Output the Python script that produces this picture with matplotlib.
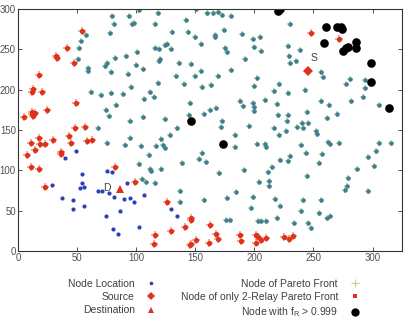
import matplotlib

matplotlib.use("Agg")
import matplotlib.pyplot as plt
from matplotlib.lines import Line2D

plt.rcParams["font.family"] = ["Liberation Sans", "DejaVu Sans"]
plt.rcParams["mathtext.default"] = "regular"

# plain nodes (only node location)
plain_x = [39.8, 49.2, 29.1, 37, 46.9, 46.9, 54, 54, 52.3, 55.9, 55.9, 67.5, 70.9, 75.2, 79.4,
           77.1, 81.1, 74.8, 80.8, 84.7, 86.7, 90.1, 92.6, 94.6, 98.6, 102.3, 106.8, 129.7, 134.5]
plain_y = [114.9, 123.9, 81.8, 65.3, 62.8, 51.7, 95, 84.7, 77.7, 79.7, 55.8, 74.3, 74.7, 99.1, 97.5,
           71.5, 66.5, 43, 27.6, 21.4, 49.2, 64.4, 83.9, 65.3, 60.7, 29.4, 69, 52, 43.7]

# nodes of the Pareto front
pareto_x = [
    79.7, 81.6, 94.1, 96.6, 98.3, 77.7, 57.4, 53.4, 52, 51.1, 59.6, 59.6, 75.2, 74, 79.1, 81.9,
    91.5, 93, 100.6, 99.7, 61.9, 70.6, 79.1, 88.7, 95.8, 82.8, 74.6, 76.9, 67.5, 94.7,
    75.7, 90.9, 94.7, 102.3,
    102.8, 118.9, 150.3, 159.6, 165.3, 168.9, 172.9, 180.5, 141.8, 115.8, 130.5, 144.1, 149.4,
    166.7, 166.7, 174.6, 189.6, 198.6, 205.1, 154.5, 115.8, 119.7, 124.8, 126.3, 129.7, 175.4,
    176.9, 199.4, 205.7, 191.8, 120.3, 119.5, 105.9, 135.9, 146.6, 154.5, 150, 133.9, 169.5,
    180.5, 202.3, 118.9, 140.7, 155.6, 163.3, 199.4, 111.9, 114.7, 107, 145.8, 187.5, 190.4,
    198.6, 200, 199.4, 209.3, 157.6, 162.7, 167.8, 172.6, 171.8, 105.9, 124.8, 144.6, 134.5, 195.8,
    230.2, 228.2, 238.7, 229.7, 235.3, 230.5, 256.2, 257.9, 281.1, 277.7, 293.5, 293.5, 220.6,
    216.4, 228.5, 242.6, 219.5, 256.2, 263.3, 281.4, 292.1, 305.1, 244.3, 220.3, 228.5, 227.7,
    261.3, 269.5, 216.4, 236.2, 240.4, 241.3, 245.2,
    128.8, 183.3, 202.3, 208.7, 104.2, 116.9, 120.9, 123.1, 124.3, 111, 155.3, 153.4, 159.3,
    183.9, 111.9, 112.7, 120.9, 138.7, 169.7, 191.5, 203.6, 211.3, 212.1, 105.1, 108.2, 115.8,
    136.7, 137.3, 157.6, 176.6, 184.7, 198.6, 197.5, 175.7, 179.7, 203.4, 205.3, 209.6,
    221.2, 226.9, 252.3, 252.8, 262.5, 263.6, 271.2, 209.9, 239.6, 243.5, 257, 230.5, 228.5,
    221.4, 254.8, 215, 212.5, 244.6, 279.4, 278.2, 276.5, 287, 296, 303.1, 301.4, 305.1, 315.5,
    296, 217.2, 221.4, 219.5, 241.3, 239.6, 233.3, 245.5, 248.3, 256.2, 254.5, 261.6, 263.8,
]
pareto_y = [
    291.6, 281.3, 291.2, 280.9, 282.1, 269.8, 268.1, 260.6, 251.2, 237.5, 227.1, 223.4, 232.6,
    229.6, 221.8, 239.5, 241.3, 219.7, 246.2, 230.5, 197.4, 193.3, 196.2, 194.2, 203.6, 181.3,
    175.1, 167.3, 152.4, 161.5,
    133.8, 131.7, 140, 108.2,
    298.6, 294.5, 299.9, 295.3, 295.3, 296.5, 292.8, 291.6, 285.9, 280.9, 271.4, 271, 265.6,
    268.1, 265.6, 273.4, 268.9, 262.7, 265.6, 256.5, 251.9, 249.9, 254.9, 256.5, 250.3, 251.9,
    246.2, 252.8, 247.8, 237.5, 237.5, 235, 225.5, 233, 231.7, 223.4, 217.2, 216.4, 217.2,
    224.3, 214.4, 208.6, 206.6, 203.2, 205.3, 204.5, 196.6, 190.5, 188.4, 183, 186.2, 179.3,
    183, 178.8, 173.5, 187.5, 170.1, 174.7, 177.2, 161.1, 154, 166.4, 163.6, 168.1, 152, 154.9,
    280.9, 254.4, 249.1, 241.6, 235.8, 232.6, 221.8, 216, 213.5, 206.6, 211.5, 201.6, 206.9,
    198.6, 195.4, 199.5, 182.2, 186.2, 180.9, 186.2, 190.5, 180.9, 172.2, 168.1, 168.1, 161.5,
    165.2, 169.4, 152.4, 153.7, 158.2, 152.8, 159,
    143.7, 143.7, 133, 133, 130.1, 130.5, 138.4, 131.4, 127.6, 119.3, 121.4, 114, 110.3,
    128.9, 102, 99.5, 101.6, 108.7, 96.7, 100.7, 85.1, 98.3, 87.1, 88.8, 85.1, 84.3,
    74.3, 61.1, 62.8, 65.7, 73.1, 66.5, 53.3, 38.8, 38.8, 37.2, 36.8, 37.5,
    143.7, 148.3, 148.7, 145, 135.4, 132.2, 133.8, 128.5, 131, 121.8, 119.8, 117.3, 111.9,
    113.1, 108.7, 103.7, 80.9, 92.9, 90.8, 80.2, 76, 101.6, 116.1, 123.9, 105.3, 133.8, 133.8,
    74, 64.1, 55.4, 40.5, 63.6, 50, 34.7, 34.7, 28.5, 63.6, 47.5, 40.5, 43.4,
]

# nodes only in the 2-relay Pareto front
relay2_x = [54, 41.3, 32.2, 33.3, 47.2, 18.1, 13, 12.1, 20.1, 49.2, 24.3, 12.1, 14.7, 13, 11.6,
            5.4, 48, 56.8, 7.4, 11, 11, 14.1, 18.1, 18.9, 22.9, 29.9, 36.2, 36.2, 18.1, 43, 44.9,
            58.2, 63, 22.9, 81.9, 99.4, 126, 146, 146.6, 141.5, 162.5, 129.7, 115.8, 115.5, 145.2,
            146.3, 150.6, 167.5, 168.9, 161.6, 187.9, 188.7, 201.7, 203.4, 201.4, 209.6, 205.7,
            225.4, 229.1, 232.5, 248.3, 272]
relay2_y = [272.6, 251, 241.6, 239.5, 232.6, 218.5, 201, 196.6, 197.4, 183, 174.3, 171.8, 170.6,
            166.9, 169.4, 166, 152, 154, 119.4, 104.5, 134.2, 125.2, 139.6, 132.6, 132.2, 138,
            122.3, 120.2, 101.6, 142.1, 133.8, 135.9, 137.5, 79.7, 103.7, 85.9, 61.1, 40.5, 38,
            29.7, 31.8, 24.8, 19.5, 9, 7.4, 8.3, 13.6, 21.4, 15.2, 10.3, 19.5, 12.8, 19.8, 17,
            9.9, 16.5, 13.6, 17.7, 14.9, 18.2, 270.5, 262.7]

# nodes with f_R > 0.999
reliable_x = [146.3, 173.5, 220, 221.5, 260.4, 269.5, 272.9, 274.3, 259.1, 275.2, 277.4, 279.1,
              286.2, 286.2, 298.3, 298.3, 314.1]
reliable_y = [160.7, 133, 297.8, 299.5, 277.6, 277.2, 278, 274.7, 258.1, 248.2, 251.2, 253.2,
              259.4, 251.6, 233.3, 209.4, 177.2]

source = (245.5, 222.7)
destination = (86.2, 77.2)

BLUE = "#2a3fb8"
TEAL = "#3f7d95"
GREEN = "#b5d99a"
RED = "#e0301e"
ORANGE = "#f3a585"

fig = plt.figure(figsize=(4.07, 3.19), dpi=100)
ax = fig.add_axes([0.044, 0.213, 0.944, 0.759])

ax.plot(plain_x, plain_y, "o", color=BLUE, ms=3.0, mew=0)
ax.plot(pareto_x, pareto_y, "+", color=GREEN, ms=5, mew=1.1)
ax.plot(pareto_x, pareto_y, "o", color=TEAL, ms=3.2, mew=0)
ax.plot(relay2_x, relay2_y, "+", color=ORANGE, ms=5.5, mew=1.3)
ax.plot(relay2_x, relay2_y, "o", color=RED, ms=3.8, mew=0)
ax.plot(reliable_x, reliable_y, "o", color="black", ms=6.2, mew=0)
ax.plot(*source, "D", color=RED, ms=4.8, mew=0)
ax.plot(*destination, "^", color=RED, ms=5.4, mew=0)
ax.text(250.3, 239.5, "S", fontsize=7.5, color="#404040", ha="center", va="center")
ax.text(75, 78, "D", fontsize=7.5, color="#404040", ha="center", va="center")

ax.set_xlim(0, 325)
ax.set_ylim(0, 300)
ax.set_xticks(range(0, 301, 50))
ax.set_yticks(range(0, 301, 50))
ax.tick_params(direction="in", top=True, right=True, length=3, width=0.6,
               labelsize=6.9, labelcolor="#505050", color="#333333", pad=1.5)
for spine in ax.spines.values():
    spine.set_color("#333333")
    spine.set_linewidth(0.8)

handles = [
    Line2D([], [], ls="none", marker="o", color=BLUE, ms=2.6, mew=0, label="Node Location"),
    Line2D([], [], ls="none", marker="+", color=GREEN, ms=6, mew=0.9, label="Node of Pareto Front"),
    Line2D([], [], ls="none", marker="D", color=RED, ms=4.4, mew=0, label="Source"),
    Line2D([], [], ls="none", marker="s", color=RED, ms=2.8, mew=0,
           label="Node of only 2-Relay Pareto Front"),
    Line2D([], [], ls="none", marker="^", color=RED, ms=4.8, mew=0, label="Destination"),
    Line2D([], [], ls="none", marker="o", color="black", ms=6, mew=0,
           label="Node with f$_R$ > 0.999"),
]
order = [0, 2, 4, 1, 3, 5]
leg = fig.legend([handles[i] for i in order], [handles[i].get_label() for i in order],
                 ncol=2, markerfirst=False, frameon=False, fontsize=7.5,
                 loc="upper center", bbox_to_anchor=(0.527, 0.142), columnspacing=2.2,
                 handlelength=1.2, handletextpad=1.0, labelspacing=0.3, borderpad=0)
for t in leg.get_texts():
    t.set_color("#404040")

fig.savefig("out.png", dpi=100)
